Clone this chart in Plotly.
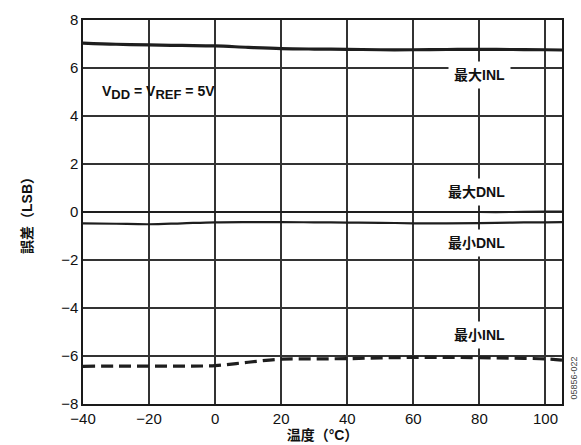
import plotly.graph_objects as go

temp = [-40, -30, -20, -10, 0, 10, 20, 30, 40, 50, 60, 70, 80, 90, 100, 105]
max_inl = [7.04, 6.99, 6.96, 6.94, 6.92, 6.86, 6.81, 6.79, 6.78, 6.76, 6.76, 6.77, 6.78, 6.77, 6.76, 6.75]
max_dnl = [0.0, 0.0, 0.0, 0.0, 0.0, 0.0, 0.0, 0.0, 0.0, 0.0, 0.0, 0.0, 0.0, 0.0, 0.02, 0.02]
min_dnl = [-0.47, -0.49, -0.51, -0.47, -0.43, -0.42, -0.42, -0.43, -0.44, -0.45, -0.47, -0.47, -0.46, -0.44, -0.43, -0.42]
min_inl = [-6.43, -6.42, -6.42, -6.42, -6.40, -6.26, -6.13, -6.12, -6.11, -6.08, -6.06, -6.06, -6.07, -6.09, -6.12, -6.17]

x_ticks = [-40, -20, 0, 20, 40, 60, 80, 100]
y_ticks = [-8, -6, -4, -2, 0, 2, 4, 6, 8]
y_tick_text = ["\u22128", "\u22126", "\u22124", "\u22122", "0", "2", "4", "6", "8"]
x_tick_text = ["\u221240", "\u221220", "0", "20", "40", "60", "80", "100"]

FONT = "Liberation Sans, Arial, Noto Sans CJK JP"
INK = "#1e1e1e"
GRID = "#333333"

fig = go.Figure()

fig.add_trace(go.Scatter(x=temp, y=max_inl, mode="lines", line=dict(color=INK, width=3.2, shape="spline")))
fig.add_trace(go.Scatter(x=temp, y=max_dnl, mode="lines", line=dict(color=INK, width=2.2, shape="spline")))
fig.add_trace(go.Scatter(x=temp, y=min_dnl, mode="lines", line=dict(color=INK, width=2.2, shape="spline")))
fig.add_trace(go.Scatter(x=temp, y=min_inl, mode="lines", line=dict(color=INK, width=3.2, dash="12px,6px", shape="spline")))

labels = [
    (80, 5.72, "<b>最大INL</b>"),
    (79, 0.83, "<b>最大DNL</b>"),
    (79, -1.28, "<b>最小DNL</b>"),
    (80, -5.12, "<b>最小INL</b>"),
]
for lx, ly, txt in labels:
    fig.add_annotation(x=lx, y=ly, text=txt, showarrow=False, bgcolor="white",
                       borderpad=5, font=dict(family=FONT, size=14, color="#111"))

fig.add_annotation(x=-35, y=5.0, xanchor="left",
                   text="<b>V<sub><span style='font-size:13px'>DD</span></sub> = V<sub><span style='font-size:13px'>REF</span></sub> = 5V</b>",
                   showarrow=False, font=dict(family=FONT, size=14, color="#111"))

fig.add_annotation(x=1.0, y=0.0, xref="paper", yref="paper", xanchor="left", yanchor="bottom",
                   xshift=4, yshift=2, text="05856-022", textangle=-90, showarrow=False,
                   font=dict(family=FONT, size=9, color="#444"))

fig.update_layout(
    width=581, height=445,
    margin=dict(l=83, r=19, t=20, b=41, autoexpand=False),
    paper_bgcolor="white", plot_bgcolor="white",
    showlegend=False,
    font=dict(family=FONT, size=15, color="#111"),
)
fig.update_xaxes(range=[-40, 105], tickvals=x_ticks, ticktext=x_tick_text,
                 showgrid=True, gridcolor=GRID, gridwidth=1.6,
                 showline=True, linecolor="#1a1a1a", linewidth=1.5, mirror=True,
                 zeroline=False, ticks="", tickfont=dict(size=15), automargin=False,
                 title=dict(text="<b>温度（°C）</b>", font=dict(size=14), standoff=4))
fig.update_yaxes(range=[-8, 8], tickvals=y_ticks, ticktext=y_tick_text,
                 showgrid=True, gridcolor=GRID, gridwidth=1.6,
                 showline=True, linecolor="#1a1a1a", linewidth=1.5, mirror=True,
                 zeroline=False, ticks="", tickfont=dict(size=15), automargin=False,
                 title=dict(text="<b>誤差（LSB）</b>", font=dict(size=14), standoff=25))

fig.write_html("out.html")
